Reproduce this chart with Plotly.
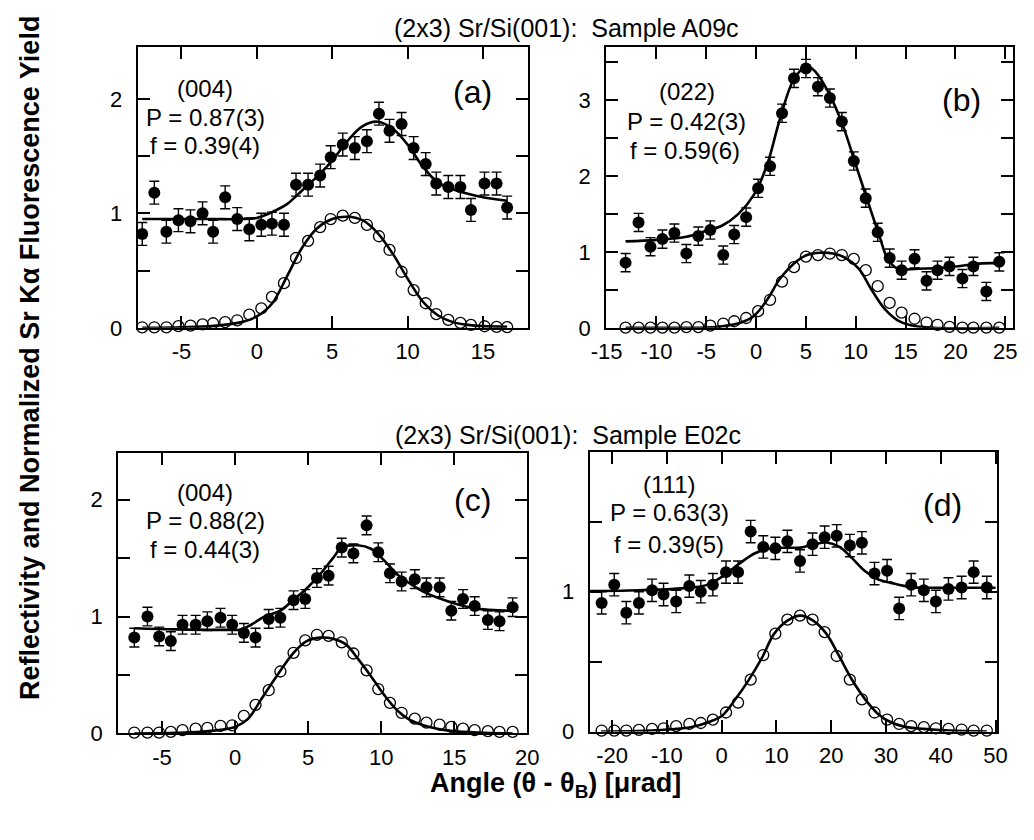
import plotly.graph_objects as go

# ---------------- data ----------------
# Panel (a)  (004), sample A09c
a_x = [-7.6, -6.8, -6.0, -5.2, -4.4, -3.6, -2.9, -2.1, -1.3, -0.5, 0.3, 1.0, 1.8, 2.6, 3.4, 4.2,
       4.9, 5.7, 6.5, 7.3, 8.1, 8.8, 9.6, 10.4, 11.2, 11.9, 12.7, 13.5, 14.2, 15.1, 15.9, 16.6]
a_fluor = [0.82, 1.18, 0.84, 0.94, 0.93, 1.00, 0.84, 1.14, 0.95, 0.86, 0.90, 0.91, 0.90, 1.25, 1.25, 1.33,
           1.49, 1.60, 1.57, 1.63, 1.87, 1.72, 1.78, 1.57, 1.43, 1.26, 1.23, 1.23, 1.03, 1.26, 1.26, 1.05]
a_refl = [0.005, 0.005, 0.005, 0.015, 0.02, 0.03, 0.04, 0.05, 0.066, 0.115, 0.17, 0.27, 0.39, 0.61, 0.76, 0.88,
          0.95, 0.98, 0.96, 0.90, 0.80, 0.68, 0.49, 0.33, 0.215, 0.12, 0.07, 0.043, 0.026, 0.014, 0.009, 0.006]
a_err = 0.10
a_fit_x = [-7.6, -5, -3, -1, 0, 1, 2, 3, 4, 5, 6, 7, 8, 9, 10, 11, 12, 13, 14, 15, 16.6]
a_fit_fluor = [0.95, 0.95, 0.95, 0.95, 0.96, 1.01, 1.08, 1.20, 1.32, 1.46, 1.63, 1.76, 1.80, 1.74, 1.60,
               1.41, 1.27, 1.21, 1.17, 1.14, 1.11]
a_fit_refl = [0.0, 0.005, 0.015, 0.05, 0.10, 0.21, 0.45, 0.70, 0.87, 0.95, 0.97, 0.94, 0.83, 0.65, 0.43,
              0.23, 0.11, 0.05, 0.026, 0.015, 0.01]

# Panel (b)  (022), sample A09c
b_x = [-13.1, -11.8, -10.6, -9.4, -8.2, -7.0, -5.8, -4.6, -3.3, -2.2, -1.0, 0.2, 1.4, 2.6, 3.8, 5.0,
       6.2, 7.4, 8.6, 9.8, 11.0, 12.2, 13.4, 14.6, 15.9, 17.1, 18.2, 19.4, 20.7, 21.8, 23.1, 24.4]
b_fluor = [0.86, 1.39, 1.07, 1.17, 1.25, 0.98, 1.21, 1.29, 0.96, 1.23, 1.46, 1.84, 2.13, 2.83, 3.29, 3.42,
           3.18, 3.03, 2.72, 2.20, 1.71, 1.26, 0.92, 0.76, 0.91, 0.62, 0.76, 0.81, 0.65, 0.81, 0.48, 0.87]
b_refl = [0.003, 0.003, 0.003, 0.003, 0.003, 0.01, 0.01, 0.03, 0.057, 0.087, 0.13, 0.22, 0.37, 0.61, 0.80, 0.94,
          0.96, 0.98, 0.96, 0.91, 0.76, 0.55, 0.33, 0.20, 0.12, 0.07, 0.04, 0.013, 0.003, 0.003, 0.003, 0.003]
b_err = 0.12
b_fit_x = [-13.1, -10, -7, -5, -3.4, -1.8, -0.2, 1.1, 2.4, 3.8, 5.1, 6.0, 7.4, 8.7, 10.0, 11.3, 12.4, 13.2,
           14.2, 16.2, 19.4, 22.7, 24.7]
b_fit_fluor = [1.14, 1.16, 1.20, 1.28, 1.35, 1.50, 1.76, 2.15, 2.76, 3.28, 3.45, 3.37, 3.07, 2.67, 2.15,
               1.63, 1.20, 0.91, 0.78, 0.78, 0.80, 0.85, 0.85]
b_fit_rx = [-13.1, -5, -3.4, -1.5, -0.2, 1.1, 2.4, 3.8, 5.1, 6.4, 7.7, 9.0, 10.3, 11.6, 12.9, 14.2, 15.5,
            17.8, 24.4]
b_fit_refl = [0.0, 0.005, 0.02, 0.07, 0.16, 0.37, 0.65, 0.85, 0.96, 0.99, 0.98, 0.92, 0.78, 0.50, 0.25,
              0.10, 0.035, 0.0, 0.0]

# Panel (c)  (004), sample E02c
c_x = [-6.9, -6.0, -5.2, -4.4, -3.6, -2.7, -1.9, -1.0, -0.2, 0.6, 1.4, 2.3, 3.1, 4.0, 4.8, 5.6,
       6.4, 7.3, 8.1, 9.0, 9.8, 10.6, 11.4, 12.3, 13.1, 14.0, 14.8, 15.6, 16.4, 17.3, 18.1, 19.0]
c_fluor = [0.82, 1.00, 0.83, 0.79, 0.93, 0.93, 0.96, 0.99, 0.93, 0.86, 0.82, 0.98, 0.99, 1.14, 1.15, 1.33,
           1.35, 1.59, 1.54, 1.78, 1.55, 1.37, 1.30, 1.32, 1.25, 1.25, 1.05, 1.15, 1.09, 0.97, 0.96, 1.08]
c_refl = [0.008, 0.008, 0.008, 0.014, 0.028, 0.042, 0.048, 0.065, 0.07, 0.15, 0.245, 0.37, 0.53, 0.69, 0.796, 0.844,
          0.835, 0.78, 0.684, 0.54, 0.38, 0.262, 0.177, 0.127, 0.093, 0.076, 0.056, 0.042, 0.028, 0.02, 0.014, 0.014]
c_err = 0.08
c_fit_x = [-6.9, -4, -0.7, 0.4, 1.1, 2.0, 3.1, 4.0, 4.9, 5.8, 6.7, 7.3, 8.4, 9.3, 10.2, 11.1, 12.0, 13.1,
           14.7, 16.4, 18.9]
c_fit_fluor = [0.90, 0.89, 0.886, 0.89, 0.93, 1.0, 1.05, 1.145, 1.24, 1.36, 1.50, 1.59, 1.61, 1.58, 1.48,
               1.36, 1.28, 1.20, 1.125, 1.07, 1.05]
c_fit_rx = [-6.9, -4, -1.8, 0, 0.9, 1.8, 2.7, 4.0, 4.9, 5.8, 6.7, 7.6, 8.4, 9.3, 10.2, 11.1, 12.0, 13.3,
            14.9, 17.1, 19.0]
c_fit_refl = [0.0, 0.005, 0.02, 0.056, 0.127, 0.295, 0.464, 0.69, 0.79, 0.82, 0.81, 0.76, 0.64, 0.49,
              0.33, 0.197, 0.113, 0.056, 0.02, 0.006, 0.0]

# Panel (d)  (111), sample E02c
d_x = [-21.9, -19.6, -17.4, -15.1, -12.7, -10.6, -8.3, -5.9, -3.8, -1.6, 0.8, 3.0, 5.3, 7.6, 9.8, 12.0,
       14.3, 16.6, 18.8, 21.0, 23.4, 25.6, 27.9, 30.2, 32.4, 34.6, 36.9, 39.1, 41.4, 43.8, 46.0, 48.4]
d_fluor = [0.92, 1.05, 0.85, 0.92, 1.01, 0.98, 0.93, 1.04, 1.00, 1.05, 1.14, 1.14, 1.43, 1.32, 1.31, 1.36,
           1.22, 1.34, 1.39, 1.40, 1.33, 1.35, 1.13, 1.15, 0.88, 1.05, 1.01, 0.93, 1.02, 1.03, 1.14, 1.03]
d_refl = [0.007, 0.007, 0.007, 0.012, 0.019, 0.023, 0.038, 0.054, 0.061, 0.085, 0.136, 0.207, 0.371, 0.547, 0.70, 0.80,
          0.829, 0.80, 0.711, 0.54, 0.371, 0.23, 0.136, 0.085, 0.054, 0.038, 0.031, 0.023, 0.019, 0.014, 0.007, 0.007]
d_err = 0.08
d_fit_x = [-24, -17, -8.7, -2.8, 0.2, 3.1, 6.1, 9.0, 12.0, 14.4, 16.8, 19.1, 21.5, 23.8, 26.2, 28.6, 30.9,
           34.5, 38.6, 44.6, 50]
d_fit_fluor = [1.005, 1.009, 1.02, 1.047, 1.11, 1.197, 1.275, 1.31, 1.315, 1.315, 1.338, 1.352, 1.32, 1.24,
               1.146, 1.087, 1.063, 1.033, 1.028, 1.028, 1.028]
d_fit_rx = [-22, -13, -5.7, -2.2, 0.2, 2.5, 4.9, 7.3, 9.6, 12.0, 14.4, 16.7, 19.1, 21.5, 23.8, 26.2, 28.6,
            30.9, 33.3, 36.9, 41.6, 48.4]
d_fit_refl = [0.0, 0.007, 0.03, 0.07, 0.117, 0.23, 0.366, 0.523, 0.70, 0.793, 0.829, 0.793, 0.70, 0.535,
              0.37, 0.23, 0.124, 0.066, 0.035, 0.019, 0.007, 0.0]

# tick settings (labelled ticks; unlabelled half-steps drawn as minor ticks)
a_xticks = [-5, 0, 5, 10, 15]
b_xticks = [-15, -10, -5, 0, 5, 10, 15, 20, 25]
c_xticks = [-5, 0, 5, 10, 15, 20]
d_xticks = [-20, -10, 0, 10, 20, 30, 40, 50]
a_yticks = [0, 1, 2]
b_yticks = [0, 1, 2, 3]
c_yticks = [0, 1, 2]
d_yticks = [0, 1]
y_minor_step = 0.5

labels = {
    "a": ["(004)", "P = 0.87(3)", "f = 0.39(4)", "(a)"],
    "b": ["(022)", "P = 0.42(3)", "f = 0.59(6)", "(b)"],
    "c": ["(004)", "P = 0.88(2)", "f = 0.44(3)", "(c)"],
    "d": ["(111)", "P = 0.63(3)", "f = 0.39(5)", "(d)"],
}
title_top = "(2x3) Sr/Si(001):\u00a0 Sample A09c"
title_bottom = "(2x3) Sr/Si(001):\u00a0 Sample E02c"
ytitle = "Reflectivity and Normalized Sr K\u03b1 Fluorescence Yield"
xtitle = "Angle (\u03b8 - \u03b8<sub>B</sub>) [\u03bcrad]"

# ---------------- layout geometry (pixels) ----------------
W, H = 1034, 840
FONT = "Liberation Sans, Arial, sans-serif"

def px(x):
    return x / W

def py(y):
    return 1 - y / H

panels = [
    ("a", a_x, a_fluor, a_refl, a_err, a_fit_x, a_fit_fluor, a_fit_x, a_fit_refl, a_xticks, a_yticks,
     [-7.9, 18.0], [0, 2.45], (126, 527, 48, 333),
     [(195, 90), (196, 119), (195, 148), (470, 93)]),
    ("b", b_x, b_fluor, b_refl, b_err, b_fit_x, b_fit_fluor, b_fit_rx, b_fit_refl, b_xticks, b_yticks,
     [-15.05, 25.8], [0, 3.7], (607, 1025, 48, 333),
     [(690, 93), (690, 123), (688, 153), (972, 102)]),
    ("c", c_x, c_fluor, c_refl, c_err, c_fit_x, c_fit_fluor, c_fit_rx, c_fit_refl, c_xticks, c_yticks,
     [-8.0, 20.0], [0, 2.4], (106, 526, 460, 745),
     [(195, 500), (196, 529), (195, 558), (470, 508)]),
    ("d", d_x, d_fluor, d_refl, d_err, d_fit_x, d_fit_fluor, d_fit_rx, d_fit_refl, d_xticks, d_yticks,
     [-24.1, 50.2], [0, 2.0], (590, 1008, 459, 743),
     [(672, 492), (672, 521), (672, 553), (952, 513)]),
]

fig = go.Figure()
annotations = []
layout_axes = {}

for i, (key, xs, fl, rf, err, fx, ff, frx, fr, xt, yt, xr, yr, box, tpos) in enumerate(panels):
    n = i + 1
    xa = "x" if n == 1 else f"x{n}"
    ya = "y" if n == 1 else f"y{n}"
    fig.add_trace(go.Scatter(x=frx, y=fr, mode="lines", xaxis=xa, yaxis=ya,
                             line=dict(color="black", width=2.6, shape="spline", smoothing=1.0),
                             showlegend=False, hoverinfo="skip"))
    fig.add_trace(go.Scatter(x=fx, y=ff, mode="lines", xaxis=xa, yaxis=ya,
                             line=dict(color="black", width=2.6, shape="spline", smoothing=1.0),
                             showlegend=False, hoverinfo="skip"))
    fig.add_trace(go.Scatter(x=xs, y=rf, mode="markers", xaxis=xa, yaxis=ya,
                             marker=dict(symbol="circle-open", size=11, color="black",
                                         line=dict(width=1.3, color="black")),
                             showlegend=False, cliponaxis=False))
    fig.add_trace(go.Scatter(x=xs, y=fl, mode="markers", xaxis=xa, yaxis=ya,
                             marker=dict(symbol="circle", size=12, color="black"),
                             error_y=dict(type="constant", value=err, color="black",
                                          thickness=1.4, width=5),
                             showlegend=False, cliponaxis=False))

    l, r, t, b = box
    axcommon = dict(showline=True, linewidth=2, linecolor="black", mirror="allticks",
                    ticks="inside", ticklen=12, tickwidth=2, tickcolor="black",
                    showgrid=False, zeroline=False,
                    tickfont=dict(family=FONT, size=22, color="black"))
    xname = "xaxis" if n == 1 else f"xaxis{n}"
    yname = "yaxis" if n == 1 else f"yaxis{n}"
    layout_axes[xname] = dict(axcommon, domain=[px(l), px(r)], range=xr, anchor=ya,
                              tickmode="array", tickvals=xt, ticktext=[str(v) for v in xt],
                              ticklabelstandoff=3)
    layout_axes[yname] = dict(axcommon, domain=[py(b), py(t)], range=yr, anchor=xa,
                              tickmode="array", tickvals=yt, ticktext=[str(v) for v in yt],
                              ticklabelstandoff=9,
                              minor=dict(tick0=0, dtick=y_minor_step, ticks="inside", ticklen=12,
                                         tickwidth=2, tickcolor="black", showgrid=False))

    texts = labels[key]
    for j, (txt, (tx, ty)) in enumerate(zip(texts, tpos)):
        annotations.append(dict(text=txt, x=px(tx), y=py(ty), xref="paper", yref="paper",
                                xanchor="center", yanchor="middle", showarrow=False,
                                font=dict(family=FONT, size=32 if j == 3 else 24, color="black")))

annotations += [
    dict(text=title_top, x=px(566), y=py(28), xref="paper", yref="paper", showarrow=False,
         xanchor="center", yanchor="middle", font=dict(family=FONT, size=25, color="black")),
    dict(text=title_bottom, x=px(568), y=py(442), xref="paper", yref="paper", showarrow=False,
         xanchor="center", yanchor="middle", font=dict(family=FONT, size=25, color="black")),
    dict(text="<b>" + ytitle + "</b>", x=px(16), y=py(364), xref="paper", yref="paper", showarrow=False,
         textangle=-90, xanchor="center", yanchor="middle",
         font=dict(family=FONT, size=27, color="black")),
    dict(text="<b>" + xtitle + "</b>", x=px(555), y=py(797), xref="paper", yref="paper", showarrow=False,
         xanchor="center", yanchor="middle", font=dict(family=FONT, size=27, color="black")),
]

fig.update_layout(width=W, height=H, margin=dict(l=0, r=0, t=0, b=0),
                  paper_bgcolor="white", plot_bgcolor="white",
                  annotations=annotations, showlegend=False, **layout_axes)

fig.write_html("out.html")
